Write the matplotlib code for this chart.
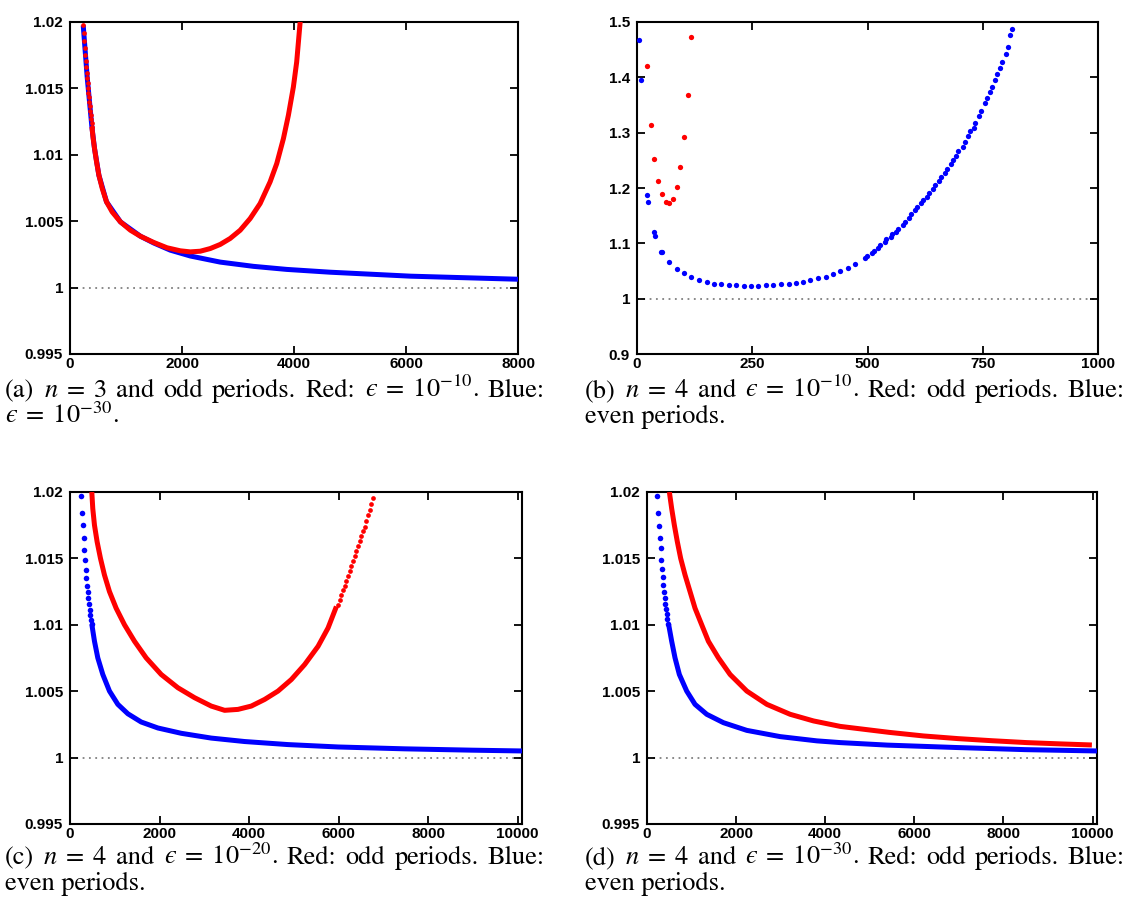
import matplotlib
matplotlib.use('Agg')
import matplotlib.pyplot as plt

plt.rcParams['mathtext.fontset'] = 'stix'

# ---------------- data ----------------
# Panel (a): n = 3, odd periods
a_red_dots_x = [236, 248, 254, 260, 272, 278, 284, 296, 308, 314, 320, 325, 337, 343, 349, 355,
                367, 373, 385, 391]
a_red_dots_y = [1.01975, 1.01917, 1.01857, 1.01804, 1.01754, 1.01707, 1.01661, 1.01619, 1.01579,
                1.01541, 1.01503, 1.01468, 1.01433, 1.01398, 1.01365, 1.01333, 1.01300, 1.01270,
                1.01240, 1.01210]
a_red_x = [391, 414, 438, 474, 516, 576, 652, 753, 901, 1079, 1257, 1495, 1732, 1970, 2148,
           2326, 2504, 2682, 2860, 3039, 3217, 3395, 3573, 3692, 3811, 3900, 3989, 4048, 4120]
a_red_y = [1.01210, 1.01122, 1.01047, 1.00947, 1.00846, 1.00746, 1.00646, 1.00570, 1.00495,
           1.00432, 1.00387, 1.00340, 1.00300, 1.00277, 1.00269, 1.00274, 1.00294, 1.00325,
           1.00370, 1.00432, 1.00520, 1.00633, 1.00796, 1.00934, 1.01122, 1.01298, 1.01511,
           1.01699, 1.0205]
a_blue_x = [236, 308, 391, 438, 516, 652, 901, 1257, 1495, 1791, 2148, 2682, 3276, 3870, 4642,
            6083, 8000]
a_blue_y = [1.01975, 1.01579, 1.01210, 1.01047, 1.00846, 1.00646, 1.00495, 1.00387, 1.00336,
            1.00282, 1.00238, 1.00192, 1.00160, 1.00137, 1.00116, 1.00086, 1.00063]

# Panel (b): n = 4, eps = 1e-10
b_red_x = [22, 30, 37, 46, 54, 62, 70, 78, 86, 94, 102, 111, 118]
b_red_y = [1.420, 1.3147, 1.252, 1.2129, 1.1889, 1.1756, 1.1726, 1.1804, 1.2015, 1.2376,
           1.2918, 1.3682, 1.4723]
b_blue_x = [5, 8, 21, 23, 36, 39, 52, 55, 70, 86, 102, 118, 135, 151, 167, 183, 200, 215,
            232, 248, 263, 280, 296, 312, 329, 345, 360, 376, 392, 409, 425, 441, 457, 472,
            495, 499, 510, 514, 523, 527, 537, 541, 550, 554, 562, 566, 577, 581, 591, 595,
            603, 607, 617, 621, 630, 634, 642, 646, 656, 660, 668, 672, 682, 686, 693, 697,
            707, 711, 719, 723, 730, 734, 742, 746, 755, 759, 766, 770, 777, 781, 788, 792,
            800, 804, 809, 813]
b_blue_y = [1.467, 1.396, 1.188, 1.175, 1.1197, 1.1137, 1.0847, 1.0836, 1.0655, 1.0541,
            1.0456, 1.0396, 1.0342, 1.0300, 1.0270, 1.0258, 1.0246, 1.0240, 1.0234, 1.0234,
            1.0234, 1.0240, 1.0246, 1.0258, 1.0270, 1.0282, 1.0306, 1.0336, 1.0366, 1.0396,
            1.0444, 1.0499, 1.0559, 1.0625,
            1.0735, 1.0779, 1.0826, 1.0870, 1.0914, 1.0962, 1.1020, 1.1072, 1.1118, 1.1168,
            1.1212, 1.1266, 1.1330, 1.1388, 1.1462, 1.1522, 1.1598, 1.1662, 1.1720, 1.1780,
            1.1838, 1.1904, 1.1988, 1.2054, 1.2118, 1.2190, 1.2272, 1.2348, 1.2432, 1.2512,
            1.2580, 1.2666, 1.2748, 1.2834, 1.2940, 1.3028, 1.3088, 1.3180, 1.3296, 1.3394,
            1.3540, 1.3632, 1.3730, 1.3826, 1.3954, 1.4060, 1.4164, 1.4272, 1.4430, 1.4546,
            1.4760, 1.4870]

# Panel (c): n = 4, eps = 1e-20
c_blue_dots_x = [248, 263, 286, 308, 323, 338, 353, 368, 383, 397, 412, 427, 442, 457, 472, 487]
c_blue_dots_y = [1.0197, 1.01845, 1.0175, 1.0165, 1.01563, 1.01488, 1.01413, 1.01355, 1.01295,
                 1.0125, 1.0120, 1.01155, 1.01113, 1.01075, 1.01038, 1.01005]
c_blue_x = [487, 547, 621, 733, 882, 1069, 1293, 1591, 1964, 2486, 3156, 3902, 4872, 5990,
            7479, 8970, 10100]
c_blue_y = [1.01005, 1.00876, 1.00751, 1.00626, 1.00501, 1.00401, 1.00330, 1.00268, 1.00223,
            1.00183, 1.00147, 1.00121, 1.00098, 1.00080, 1.00066, 1.00056, 1.00050]
c_red_x = [487, 509, 547, 606, 681, 770, 882, 1031, 1218, 1441, 1702, 2038, 2411, 2784, 3156,
           3455, 3753, 4051, 4349, 4648, 4946, 5244, 5543, 5766, 5953]
c_red_y = [1.0200, 1.01875, 1.0175, 1.01625, 1.0150, 1.01375, 1.0125, 1.01125, 1.0100, 1.00876,
           1.00751, 1.00626, 1.00526, 1.00451, 1.00388, 1.00356, 1.00363, 1.00388, 1.00438,
           1.00501, 1.00588, 1.00701, 1.00838, 1.00976, 1.01138]
c_red_dots_x = [5990, 6027, 6064, 6102, 6139, 6176, 6214, 6251, 6288, 6326, 6363, 6400, 6437,
                6475, 6512, 6549, 6586, 6624, 6661, 6698, 6736, 6773]
c_red_dots_y = [1.0115, 1.01188, 1.01225, 1.01262, 1.01295, 1.01332, 1.01368, 1.01405,
                1.01442, 1.01478, 1.01515, 1.01552, 1.01590, 1.01628, 1.01665, 1.01703,
                1.01740, 1.01785, 1.01825, 1.01868, 1.01913, 1.01958]

# Panel (d): n = 4, eps = 1e-30
d_blue_dots_x = [232, 254, 270, 285, 307, 322, 337, 352, 367, 382, 397, 412, 427, 442, 457, 472]
d_blue_dots_y = [1.0197, 1.01845, 1.01743, 1.0165, 1.01575, 1.01488, 1.0142, 1.01358, 1.013,
                 1.0125, 1.01205, 1.0116, 1.01118, 1.0108, 1.01043, 1.01008]
d_blue_x = [472, 487, 554, 629, 726, 891, 1078, 1341, 1715, 2240, 2989, 3813, 4337, 5397,
            6939, 8481, 10100]
d_blue_y = [1.01008, 1.0100, 1.00876, 1.00751, 1.00626, 1.00501, 1.00401, 1.00326, 1.00263,
            1.00205, 1.00158, 1.00126, 1.00113, 1.00094, 1.00076, 1.00060, 1.00050]
d_red_x = [502, 554, 614, 681, 756, 854, 966, 1078, 1228, 1378, 1603, 1865, 2240, 2690, 3213,
           3738, 4337, 5436, 6207, 6978, 7749, 8520, 9291, 9985]
d_red_y = [1.0200, 1.01875, 1.0175, 1.01625, 1.0150, 1.01375, 1.0125, 1.01125, 1.0100,
           1.00876, 1.00751, 1.00626, 1.00501, 1.00401, 1.00326, 1.00276, 1.00235, 1.00190,
           1.00163, 1.00143, 1.00127, 1.00113, 1.00103, 1.00095]

# tick labels
small_yticks = [0.995, 1.0, 1.005, 1.01, 1.015, 1.02]
small_ylabels = ['0.995', '1', '1.005', '1.01', '1.015', '1.02']
b_yticks = [0.9, 1.0, 1.1, 1.2, 1.3, 1.4, 1.5]
b_ylabels = ['0.9', '1', '1.1', '1.2', '1.3', '1.4', '1.5']
a_xticks = [0, 2000, 4000, 6000, 8000]
b_xticks = [0, 250, 500, 750, 1000]
cd_xticks = [0, 2000, 4000, 6000, 8000, 10000]

captions = {
    'a': [r"(a) $n\;=\;3$ and odd periods. Red: $\u03f5\;=\;10^{-10}$. Blue:",
          r"$\u03f5\;=\;10^{-30}$."],
    'b': [r"(b) $n\;=\;4$ and $\u03f5\;=\;10^{-10}$. Red: odd periods. Blue:", "even periods."],
    'c': [r"(c) $n\;=\;4$ and $\u03f5\;=\;10^{-20}$. Red: odd periods. Blue:", "even periods."],
    'd': [r"(d) $n\;=\;4$ and $\u03f5\;=\;10^{-30}$. Red: odd periods. Blue:", "even periods."],
}
captions = {k: [s.replace(r'\u03f5', '\u03f5') for s in v] for k, v in captions.items()}

# ---------------- drawing ----------------
W, H = 1128, 923
fig = plt.figure(figsize=(W / 100, H / 100), dpi=100)

def rect(l, t, r, b):
    return [l / W, 1 - b / H, (r - l) / W, (b - t) / H]

RED = '#ff0000'
BLUE = '#0000ff'
LW = 3.6
MS = 3.4

def style(ax, xlim, ylim, xticks, yticks, ylabels):
    ax.set_xlim(*xlim)
    ax.set_ylim(*ylim)
    ax.set_xticks(xticks)
    ax.set_xticklabels([str(t) for t in xticks])
    ax.set_yticks(yticks)
    ax.set_yticklabels(ylabels)
    ax.tick_params(direction='in', top=True, right=True, length=6, width=1.3,
                   labelsize=11, pad=2)
    ax.tick_params(axis='y', pad=5)
    for lab in ax.get_xticklabels() + ax.get_yticklabels():
        lab.set_fontweight('bold')
        lab.set_family('Liberation Sans')
    for s in ax.spines.values():
        s.set_linewidth(1.5)
    ax.axhline(1.0, color='#808080', lw=1.3, ls=(0, (1, 2.5)), zorder=1)

def line(ax, x, y, c, z=3):
    ax.plot(x, y, '-', color=c, lw=LW, solid_capstyle='butt', solid_joinstyle='round', zorder=z)

def dots(ax, x, y, c, z=3, ms=MS):
    ax.plot(x, y, 'o', color=c, ms=ms, mew=0, zorder=z)

# (a)
ax = fig.add_axes(rect(70, 22, 518, 354))
line(ax, a_blue_x, a_blue_y, BLUE, 3)
dots(ax, a_red_dots_x, a_red_dots_y, RED, 4)
line(ax, a_red_x, a_red_y, RED, 4)
style(ax, (0, 8000), (0.995, 1.02), a_xticks, small_yticks, small_ylabels)

# (b)
ax = fig.add_axes(rect(637, 22, 1098, 354))
dots(ax, b_blue_x, b_blue_y, BLUE, 3, ms=3.8)
dots(ax, b_red_x, b_red_y, RED, 4, ms=3.8)
style(ax, (0, 1000), (0.9, 1.5), b_xticks, b_yticks, b_ylabels)

# (c)
ax = fig.add_axes(rect(70, 492, 522, 824))
dots(ax, c_blue_dots_x, c_blue_dots_y, BLUE, 3, ms=4.0)
line(ax, c_blue_x, c_blue_y, BLUE, 3)
line(ax, c_red_x, c_red_y, RED, 4)
dots(ax, c_red_dots_x, c_red_dots_y, RED, 4)
style(ax, (0, 10100), (0.995, 1.02), cd_xticks, small_yticks, small_ylabels)

# (d)
ax = fig.add_axes(rect(647, 492, 1097, 824))
dots(ax, d_blue_dots_x, d_blue_dots_y, BLUE, 3, ms=4.0)
line(ax, d_blue_x, d_blue_y, BLUE, 3)
line(ax, d_red_x, d_red_y, RED, 4)
style(ax, (0, 10100), (0.995, 1.02), cd_xticks, small_yticks, small_ylabels)

# captions: first line justified to the column width (as in the typeset original)
CAP_FS = 19
COL_W = 540
cap_pos = {'a': (5, 397), 'b': (585, 397), 'c': (5, 864), 'd': (585, 864)}
renderer = fig.canvas.get_renderer()
for k, (x0, y0) in cap_pos.items():
    l1, l2 = captions[k]
    words = l1.split(' ')
    texts = [fig.text(x0 / W, 1 - y0 / H, w, fontsize=CAP_FS, family='STIXGeneral',
                      va='baseline', ha='left') for w in words]
    widths = [t.get_window_extent(renderer).width for t in texts]
    gap = (COL_W - sum(widths)) / (len(words) - 1)
    xpos = x0
    for t, wdt in zip(texts, widths):
        t.set_x(xpos / W)
        xpos += wdt + gap
    fig.text(x0 / W, 1 - (y0 + 26) / H, l2, fontsize=CAP_FS, family='STIXGeneral',
             va='baseline', ha='left')

fig.savefig('out.png', dpi=100)
